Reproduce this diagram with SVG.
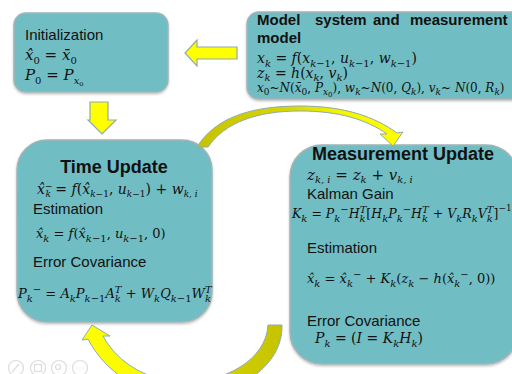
<svg xmlns="http://www.w3.org/2000/svg" width="512" height="374" viewBox="0 0 512 374">
<style>
.box{fill:#6fbec4;stroke:#a3b4b6;stroke-width:1.5}
.tx{font-family:"Liberation Sans",Arial,sans-serif;fill:#111;font-size:15px}
.b{font-weight:bold}
.h{font-size:18px}
.mt{font-family:"DejaVu Serif","Liberation Serif",serif;font-style:italic;fill:#111;font-size:14px}
.m13{font-size:13px}
.m125{font-size:12.5px}
.m12{font-size:12px}
.m15{font-size:15px}
.u{font-style:normal}
.s{font-size:10px}
.s9{font-size:9px}
.ss{font-size:7px}
.arr{fill:#ffff00;stroke:#8eaaae;stroke-width:1.2}
.ic{fill:none;stroke:#dcdcdc;stroke-width:1.2}
</style>
<defs>
<filter id="sh" x="-5%" y="-5%" width="110%" height="115%">
<feDropShadow dx="0" dy="1.5" stdDeviation="1" flood-color="#000" flood-opacity="0.25"/>
</filter>
<linearGradient id="gTop" gradientUnits="userSpaceOnUse" x1="197" y1="0" x2="400" y2="0">
<stop offset="0" stop-color="#c6c300"/>
<stop offset="0.45" stop-color="#d8d600"/>
<stop offset="0.7" stop-color="#f4f400"/>
<stop offset="1" stop-color="#ffff00"/>
</linearGradient>
<linearGradient id="gBot" gradientUnits="userSpaceOnUse" x1="85" y1="0" x2="282" y2="0">
<stop offset="0" stop-color="#ffff00"/>
<stop offset="0.45" stop-color="#f6f600"/>
<stop offset="0.65" stop-color="#d4d200"/>
<stop offset="1" stop-color="#c6c300"/>
</linearGradient>
</defs>

<g id="init">
<rect class="box" x="14" y="13" width="154" height="79" rx="12" filter="url(#sh)"/>
<text class="tx" x="25" y="40">Initialization</text>
<text class="mt m15" x="25" y="60">x̂<tspan class="s u" dy="4">0</tspan><tspan class="u" dy="-4"> = </tspan>x̄<tspan class="s u" dy="4">0</tspan></text>
<text class="mt m15" x="25" y="80">P<tspan class="s u" dy="4">0</tspan><tspan class="u" dy="-4"> = </tspan>P<tspan class="s" dy="4">x</tspan><tspan class="ss u" dy="2">o</tspan></text>
</g>

<g id="model">
<rect class="box" x="247" y="12" width="280" height="87" rx="12" filter="url(#sh)"/>
<text class="tx b" y="25"><tspan x="257">Model</tspan><tspan x="315">system</tspan><tspan x="373">and</tspan><tspan x="410">measurement</tspan></text>
<text class="tx b" x="257" y="43">model</text>
<text class="mt" x="257" y="63">x<tspan class="s" dy="4">k</tspan><tspan class="u" dy="-4"> = </tspan>f<tspan class="u">(</tspan>x<tspan class="s" dy="4">k<tspan class="u">−1</tspan></tspan><tspan class="u" dy="-4">, </tspan>u<tspan class="s" dy="4">k<tspan class="u">−1</tspan></tspan><tspan class="u" dy="-4">, </tspan>w<tspan class="s" dy="4">k<tspan class="u">−1</tspan></tspan><tspan class="u" dy="-4">)</tspan></text>
<text class="mt" x="257" y="78">z<tspan class="s" dy="3">k</tspan><tspan class="u" dy="-3"> = </tspan>h<tspan class="u">(</tspan>x<tspan class="s" dy="3">k</tspan><tspan class="u" dy="-3">, </tspan>v<tspan class="s" dy="3">k</tspan><tspan class="u" dy="-3">)</tspan></text>
<text class="mt m12" x="257" y="92">x<tspan class="s9 u" dy="3">0</tspan><tspan class="u" dy="-3">~</tspan>N<tspan class="u">(</tspan>x̄<tspan class="s9 u" dy="3">0</tspan><tspan class="u" dy="-3">, </tspan>P<tspan class="s9" dy="3">x</tspan><tspan class="ss u" dy="2">0</tspan><tspan class="u" dy="-5">), </tspan>w<tspan class="s9" dy="3">k</tspan><tspan class="u" dy="-3">~</tspan>N<tspan class="u">(0, </tspan>Q<tspan class="s9" dy="3">k</tspan><tspan class="u" dy="-3">), </tspan>v<tspan class="s9" dy="3">k</tspan><tspan class="u" dy="-3">~ </tspan>N<tspan class="u">(0, </tspan>R<tspan class="s9" dy="3">k</tspan><tspan class="u" dy="-3">)</tspan></text>
</g>

<g id="time-update">
<rect class="box" x="17" y="140" width="195" height="182" rx="30" filter="url(#sh)"/>
<text class="tx b h" x="114" y="173" text-anchor="middle">Time Update</text>
<text class="mt" x="37" y="194">x̂<tspan class="s9 u" dy="-5">−</tspan><tspan class="s9" dx="-7" dy="8">k</tspan><tspan class="u" dy="-3"> = </tspan>f<tspan class="u">(</tspan>x̂<tspan class="s9" dy="3">k<tspan class="u">−1</tspan></tspan><tspan class="u" dy="-3">, </tspan>u<tspan class="s9" dy="3">k<tspan class="u">−1</tspan></tspan><tspan class="u" dy="-3">) + </tspan>w<tspan class="s9" dy="3">k, i</tspan></text>
<text class="tx" x="33" y="214">Estimation</text>
<text class="mt m13" x="36" y="238">x̂<tspan class="s" dy="4">k</tspan><tspan class="u" dy="-4"> = </tspan>f<tspan class="u">(</tspan>x̂<tspan class="s" dy="4">k<tspan class="u">−1</tspan></tspan><tspan class="u" dy="-4">, </tspan>u<tspan class="s" dy="4">k<tspan class="u">−1</tspan></tspan><tspan class="u" dy="-4">, 0)</tspan></text>
<text class="tx" x="33" y="267">Error Covariance</text>
<text class="mt m13" x="18" y="298">P<tspan class="s" dy="4">k</tspan><tspan class="s u" dy="-9">−</tspan><tspan class="u" dy="5"> = </tspan>A<tspan class="s" dy="4">k</tspan><tspan dy="-4">P</tspan><tspan class="s" dy="4">k<tspan class="u">−1</tspan></tspan><tspan dy="-4">A</tspan><tspan class="s" dy="4">k</tspan><tspan class="s" dx="-6" dy="-9">T</tspan><tspan class="u" dy="5"> + </tspan>W<tspan class="s" dy="4">k</tspan><tspan dy="-4">Q</tspan><tspan class="s" dy="4">k<tspan class="u">−1</tspan></tspan><tspan dy="-4">W</tspan><tspan class="s" dy="4">k</tspan><tspan class="s" dx="-6" dy="-9">T</tspan></text>
</g>

<g id="measurement-update">
<rect class="box" x="290" y="145" width="228" height="219" rx="32" filter="url(#sh)"/>
<text class="tx b h" x="312" y="160">Measurement Update</text>
<text class="mt m15" x="307" y="180">z<tspan class="s" dy="3">k, i</tspan><tspan class="u" dy="-3"> = </tspan>z<tspan class="s" dy="3">k</tspan><tspan class="u" dy="-3"> + </tspan>v<tspan class="s" dy="3">k, i</tspan></text>
<text class="tx" x="307" y="199">Kalman Gain</text>
<text class="mt m125" x="292" y="218">K<tspan class="s" dy="4">k</tspan><tspan class="u" dy="-4"> = </tspan>P<tspan class="s" dy="4">k</tspan><tspan class="s u" dy="-9">−</tspan><tspan dy="5">H</tspan><tspan class="s" dy="4">k</tspan><tspan class="s" dx="-6" dy="-9">T</tspan><tspan class="u" dy="5">[</tspan>H<tspan class="s" dy="4">k</tspan><tspan dy="-4">P</tspan><tspan class="s" dy="4">k</tspan><tspan class="s u" dy="-9">−</tspan><tspan dy="5">H</tspan><tspan class="s" dy="4">k</tspan><tspan class="s" dx="-6" dy="-9">T</tspan><tspan class="u" dy="5"> + </tspan>V<tspan class="s" dy="4">k</tspan><tspan dy="-4">R</tspan><tspan class="s" dy="4">k</tspan><tspan dy="-4">V</tspan><tspan class="s" dy="4">k</tspan><tspan class="s" dx="-6" dy="-9">T</tspan><tspan class="u" dy="5">]</tspan><tspan class="s9 u" dy="-7">−1</tspan></text>
<text class="tx" x="307" y="253">Estimation</text>
<text class="mt m13" x="307" y="283">x̂<tspan class="s" dy="4">k</tspan><tspan class="u" dy="-4"> = </tspan>x̂<tspan class="s" dy="4">k</tspan><tspan class="s u" dy="-9">−</tspan><tspan class="u" dy="5"> + </tspan>K<tspan class="s" dy="4">k</tspan><tspan class="u" dy="-4">(</tspan>z<tspan class="s" dy="4">k</tspan><tspan class="u" dy="-4"> − </tspan>h<tspan class="u">(</tspan>x̂<tspan class="s" dy="4">k</tspan><tspan class="s u" dy="-9">−</tspan><tspan class="u" dy="5">, 0))</tspan></text>
<text class="tx" x="307" y="326">Error Covariance</text>
<text class="mt" x="315" y="343">P<tspan class="s" dy="4">k</tspan><tspan class="u" dy="-4"> = (</tspan>I<tspan class="u"> = </tspan>K<tspan class="s" dy="4">k</tspan><tspan dy="-4">H</tspan><tspan class="s" dy="4">k</tspan><tspan class="u" dy="-4">)</tspan></text>
</g>

<g id="connectors">
<polygon class="arr" points="237,47 197,47 197,40 185,53 197,66 197,59 237,59"/>
<polygon class="arr" points="90,102 108,102 108,120 116,120 102,134 88,120 90,120"/>
<path d="M197,147 C215,118 250,106 300,106 C345,106 375,117 397,133 L403,132 L393,146 L380,134 L387,134 C367,120 340,111 300,111 C258,111 225,122 208,147 Z" fill="url(#gTop)" stroke="#8eaaae" stroke-width="1"/>
<path d="M282,325 C283,365 240,396 185,396 C140,396 105,372 88,339 L82,340 L92,325 L110,336 L103,336 C118,364 150,382 185,382 C225,382 266,360 268,325 Z" fill="url(#gBot)" stroke="#8eaaae" stroke-width="1"/>
</g>

<g id="controls">
<circle class="ic" cx="16" cy="368" r="7.5"/>
<path class="ic" d="M12,372 L19,364"/>
<circle class="ic" cx="38" cy="368" r="7.5"/>
<rect class="ic" x="34.5" y="364.5" width="7" height="7"/>
<circle class="ic" cx="59" cy="368" r="7.5"/>
<circle class="ic" cx="58" cy="367" r="2.5"/>
<circle class="ic" cx="80" cy="368" r="7.5"/>
<path class="ic" d="M76.5,368 h1 M79.5,368 h1 M82.5,368 h1"/>
</g>
</svg>
